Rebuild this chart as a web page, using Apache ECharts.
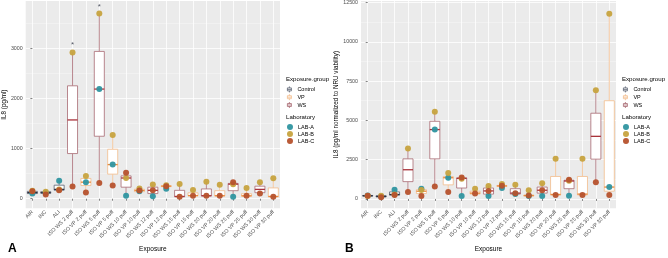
<!DOCTYPE html>
<html>
<head>
<meta charset="utf-8">
<title>IL8 by exposure</title>
<script src="https://cdn.jsdelivr.net/npm/echarts@6/dist/echarts.min.js"></script>
</head>
<body style="margin:0;background:#fff">
<div id="main" style="width:668px;height:258px;"></div>
<script>
// categories on both panels
var categories = ['AIR', 'INC', 'ALI',
    'ISO WS 2 puff', 'ISO VP 2 puff', 'ISO WS 5 puff', 'ISO VP 5 puff',
    'ISO WS 10 puff', 'ISO VP 10 puff', 'ISO WS 12 puff', 'ISO VP 12 puff',
    'ISO WS 15 puff', 'ISO VP 15 puff', 'ISO WS 20 puff', 'ISO VP 20 puff',
    'ISO WS 25 puff', 'ISO VP 25 puff', 'ISO WS 30 puff', 'ISO VP 30 puff'];
var exposureGroup = ['Control', 'Control', 'Control',
    'WS', 'VP', 'WS', 'VP', 'WS', 'VP', 'WS', 'VP',
    'WS', 'VP', 'WS', 'VP', 'WS', 'VP', 'WS', 'VP'];
var groupNames = ['Control', 'VP', 'WS'];
var labNames = ['LAB-A', 'LAB-B', 'LAB-C'];

// panel A: IL8 (pg/ml), box = [low, q1, median, q3, high]
var boxA = [
    [90, 103, 122, 147, 160], [83, 109, 120, 140, 150], [165, 170, 186, 270, 358],
    [245, 900, 1570, 2250, 2915], [122, 263, 330, 404, 455], [313, 1245, 2185, 2935, 3690],
    [263, 490, 680, 985, 1270], [58, 230, 413, 455, 519], [120, 140, 165, 190, 205],
    [51, 103, 167, 230, 282], [199, 240, 250, 262, 270], [38, 40, 45, 167, 295],
    [55, 58, 62, 118, 175], [45, 55, 60, 195, 340], [50, 55, 60, 160, 280],
    [38, 160, 290, 305, 330], [45, 50, 58, 100, 215], [103, 120, 186, 250, 330],
    [38, 40, 45, 215, 410]];
var labA_A = [103, 118, 358, null, 330, 2185, 680, 58, 150, 51, 199, null, null, null, null, 38, null, null, null];
var labB_A = [157, 140, 186, 2915, 455, 3690, 1270, 413, 205, 282, 268, 295, 175, 340, 280, 290, 215, 330, 410];
var labC_A = [147, 85, 170, 245, 122, 313, 263, 519, 165, 167, 250, 38, 58, 58, 58, 330, 58, 103, 38];
var signifA = [[3, 3115], [5, 3860]];

// panel B: IL8 normalized to NRU viability
var boxB = [
    [170, 180, 200, 220, 230], [98, 123, 160, 202, 210], [200, 240, 282, 447, 588],
    [447, 1100, 1857, 2550, 3206], [184, 343, 490, 588, 650], [797, 2550, 4414, 4941, 5554],
    [447, 895, 1349, 1428, 1655], [184, 693, 1306, 1340, 1367], [300, 310, 368, 490, 650],
    [184, 306, 509, 693, 815], [693, 797, 827, 858, 956], [306, 306, 368, 650, 895],
    [184, 184, 214, 245, 552], [184, 368, 552, 754, 999], [202, 245, 282, 1428, 2550],
    [202, 650, 1140, 1190, 1226], [245, 250, 306, 1428, 2550], [1060, 2532, 3984, 5455, 6925],
    [245, 490, 754, 6252, 11790]];
var labA_B = [215, 160, 588, null, 650, 4414, 1349, 184, null, 184, 693, 306, 184, 184, null, 202, null, null, 754];
var labB_B = [185, 200, 282, 3206, 560, 5554, 1655, 1290, 650, 815, 956, 895, 552, 999, 2550, 1150, 2550, 6925, 11790];
var labC_B = [200, 98, 250, 447, 184, 797, 447, 1367, 340, 509, 830, 368, 214, 552, 250, 1226, 245, 1060, 245];

var yTicksA = [0, 1000, 2000, 3000];
var yMinorA = [500, 1500, 2500, 3500];
var yTicksB = [0, 2500, 5000, 7500, 10000, 12500];
var yMinorB = [1250, 3750, 6250, 8750, 11250];

var groupStyle = {
    Control: {line: '#5b6272', median: '#2d2f3f'},
    VP: {line: '#f3bc8c', median: '#ec8a3c'},
    WS: {line: '#a86a72', median: '#a9333b'}
};
var labColor = {'LAB-A': '#2f95a0', 'LAB-B': '#c7a33f', 'LAB-C': '#b6522d'};
var font = 'Liberation Sans';

var myChart = echarts.init(document.getElementById('main'), null, {renderer: 'canvas'});

function renderBox(params, api) {
    var x = api.value(0);
    var st = groupStyle[params.seriesName];
    var lo = api.coord([x, api.value(1)]);
    var q1 = api.coord([x, api.value(2)]);
    var md = api.coord([x, api.value(3)]);
    var q3 = api.coord([x, api.value(4)]);
    var hi = api.coord([x, api.value(5)]);
    var half = api.size([1, 0])[0] * 0.375;
    var cx = lo[0];
    return {
        type: 'group',
        children: [
            {type: 'line', shape: {x1: cx, y1: hi[1], x2: cx, y2: q3[1]}, style: {stroke: st.line, lineWidth: 0.8}},
            {type: 'line', shape: {x1: cx, y1: q1[1], x2: cx, y2: lo[1]}, style: {stroke: st.line, lineWidth: 0.8}},
            {type: 'rect', shape: {x: cx - half, y: q3[1], width: half * 2, height: Math.max(q1[1] - q3[1], 0.5)},
                style: {fill: '#ffffff', stroke: st.line, lineWidth: 0.8}},
            {type: 'line', shape: {x1: cx - half, y1: md[1], x2: cx + half, y2: md[1]}, style: {stroke: st.median, lineWidth: 1.3}}
        ]
    };
}

function plainNum(v) { return String(v); }

function panel(p, left, width, yMin, yMax, ticks, minors, yName, boxes, labs, signif, letter, letterX) {
    var xi = p * 2, yi = p * 2;
    var grid = {left: left, top: 1, width: width, height: 216, show: true,
        backgroundColor: '#ebebeb', borderWidth: 0};
    var xAxes = [
        {type: 'category', gridIndex: p, data: categories, boundaryGap: true,
            name: 'Exposure', nameLocation: 'middle', nameGap: 33,
            nameTextStyle: {fontFamily: font, fontSize: 6.5, color: '#000'},
            axisLine: {show: false},
            axisTick: {show: true, alignWithLabel: true, length: 2, lineStyle: {color: '#333', width: 0.6}},
            axisLabel: {rotate: 45, fontFamily: font, fontSize: 5.3, color: '#4d4d4d', margin: 3, interval: 0},
            splitLine: {show: false}},
        {type: 'value', gridIndex: p, min: -0.5, max: categories.length - 0.5,
            axisLine: {show: false}, axisLabel: {show: false},
            axisTick: {show: false, customValues: categories.map(function (c, i) { return i; })},
            splitLine: {show: true, lineStyle: {color: '#ffffff', width: 0.8}}}
    ];
    var yAxes = [
        {type: 'value', gridIndex: p, min: yMin, max: yMax,
            name: yName, nameLocation: 'middle', nameGap: p === 0 ? 16 : 19,
            nameTextStyle: {fontFamily: font, fontSize: 6.3, color: '#000'},
            axisLine: {show: false},
            axisTick: {show: true, length: 2, customValues: ticks, lineStyle: {color: '#333', width: 0.6}},
            axisLabel: {customValues: ticks, formatter: plainNum, fontFamily: font, fontSize: 5.3, color: '#4d4d4d', margin: 3},
            splitLine: {show: true, lineStyle: {color: '#ffffff', width: 0.8}}},
        {type: 'value', gridIndex: p, min: yMin, max: yMax,
            axisLine: {show: false}, axisLabel: {show: false},
            axisTick: {show: false, customValues: minors},
            splitLine: {show: true, lineStyle: {color: '#f7f7f7', width: 0.5}}}
    ];
    var series = [];
    groupNames.forEach(function (g) {
        var data = [];
        boxes.forEach(function (b, i) {
            if (exposureGroup[i] === g) data.push([i].concat(b));
        });
        series.push({name: g, type: 'custom', xAxisIndex: xi, yAxisIndex: yi,
            renderItem: renderBox, data: data, z: 2, silent: true,
            itemStyle: {color: groupStyle[g].line},
            encode: {x: 0, y: [1, 2, 3, 4, 5]}});
    });
    labNames.forEach(function (lab, k) {
        var data = [];
        labs[k].forEach(function (v, i) { if (v !== null) data.push([i, v]); });
        series.push({name: lab, type: 'scatter', xAxisIndex: xi, yAxisIndex: yi,
            data: data, symbol: 'circle', symbolSize: 6, z: 4, silent: true,
            itemStyle: {color: labColor[lab], opacity: 0.95}});
    });
    if (signif) {
        series.push({name: 'signif', type: 'scatter', xAxisIndex: xi, yAxisIndex: yi,
            data: signif, symbolSize: 0.1, z: 5, silent: true,
            label: {show: true, formatter: '*', position: 'inside', offset: [0, 2],
                fontFamily: font, fontSize: 8, color: '#2b3040'}});
    }
    var lx = left + width + 6;
    var legends = [
        {orient: 'vertical', left: lx + 1, top: 86, padding: 0, itemWidth: 6, itemHeight: 6, itemGap: 1,
            textStyle: {fontFamily: font, fontSize: 5.5, color: '#000', lineHeight: 6}, selectedMode: false,
            data: groupNames.map(function (g) {
                return {name: g, icon: 'path://M4,0L4,3M4,9L4,12M0,3L8,3L8,9L0,9ZM0,6L8,6',
                    itemStyle: {color: '#ffffff', borderColor: groupStyle[g].line, borderWidth: 0.8}};
            })},
        {orient: 'vertical', left: lx + 1, top: 124, padding: 0, itemWidth: 6, itemHeight: 6, itemGap: 1,
            textStyle: {fontFamily: font, fontSize: 5.5, color: '#000', lineHeight: 6}, selectedMode: false,
            data: labNames.map(function (l) {
                return {name: l, icon: 'path://M3,1A2,2,0,1,1,2.99,1Z'};
            })}
    ];
    var titles = [
        {text: 'Exposure.group', left: lx, top: 76, padding: 0,
            textStyle: {fontFamily: font, fontSize: 6.1, fontWeight: 'normal', color: '#000'}},
        {text: 'Laboratory', left: lx, top: 114, padding: 0,
            textStyle: {fontFamily: font, fontSize: 6.1, fontWeight: 'normal', color: '#000'}},
        {text: letter, left: letterX, top: 243, padding: 0,
            textStyle: {fontFamily: font, fontSize: 12, fontWeight: 'bold', color: '#000'}}
    ];
    return {grid: grid, xAxis: xAxes, yAxis: yAxes, series: series, legend: legends, title: titles};
}

var pA = panel(0, 22, 258, -190, 3940, yTicksA, yMinorA, 'IL8 (pg/ml)', boxA, [labA_A, labB_A, labC_A], signifA, 'A', 8);
var pB = panel(1, 361, 255, -595, 12600, yTicksB, yMinorB, 'IL8 (pg/ml normalized to NRU viability)', boxB, [labA_B, labB_B, labC_B], null, 'B', 345);

var option = {
    animation: false,
    backgroundColor: '#ffffff',
    grid: [pA.grid, pB.grid],
    xAxis: pA.xAxis.concat(pB.xAxis),
    yAxis: pA.yAxis.concat(pB.yAxis),
    series: pA.series.concat(pB.series),
    legend: pA.legend.concat(pB.legend),
    title: pA.title.concat(pB.title)
};
myChart.setOption(option);
</script>
</body>
</html>
